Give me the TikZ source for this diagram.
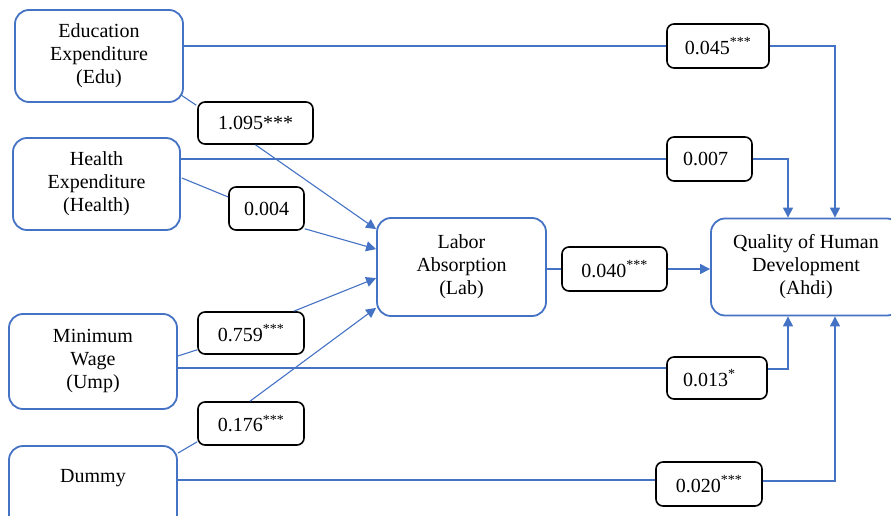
\documentclass[tikz,border=0pt]{standalone}
\usepackage{fontspec}
\setmainfont{Liberation Serif}
\usetikzlibrary{arrows.meta,calc}
\definecolor{bl}{HTML}{4472C4}
\begin{document}
\begin{tikzpicture}[x=1pt,y=-1pt,
  box/.style={draw=bl, line width=1.8pt, rounded corners=14pt, align=center, inner sep=0pt, font=\fontsize{20}{23}\selectfont},
  coef/.style={draw=black, line width=1.6pt, rounded corners=7pt, inner sep=0pt, font=\fontsize{20}{23}\selectfont},
  conn/.style={draw=bl, line width=1.1pt},
  arr/.style={conn, -{Triangle[length=10pt,width=10pt]}}]
\useasboundingbox (0,0) rectangle (891,516);

% main boxes
\node[box, minimum width=168pt, minimum height=92pt] (edu) at (99,56) {Education\\Expenditure\\(Edu)};
\node[box, minimum width=167pt, minimum height=92pt] (health) at (96.5,184) {Health\\Expenditure\\(Health)};
\node[box, minimum width=168pt, minimum height=95pt] (ump) at (93,361.5) {Minimum\\Wage\\(Ump)};
\node[box, minimum width=168pt, minimum height=94pt, text height=10pt, text depth=32pt] (dummy) at (93,493) {Dummy};
\node[box, minimum width=169pt, minimum height=98pt] (lab) at (461.5,267) {Labor\\Absorption\\(Lab)};
\node[box, minimum width=190pt, minimum height=97pt] (ahdi) at (806,267) {Quality of Human\\Development\\(Ahdi)};

% coefficient boxes
\node[coef, minimum width=115pt, minimum height=42pt] (l1) at (255.5,123) {1.095***};
\node[coef, minimum width=75pt, minimum height=43pt] (l2) at (266.5,208.5) {0.004};
\node[coef, minimum width=106pt, minimum height=42pt] (l3) at (251,333) {0.759\textsuperscript{***}};
\node[coef, minimum width=106pt, minimum height=43pt] (l4) at (251,423.5) {0.176\textsuperscript{***}};
\node[coef, minimum width=105pt, minimum height=44pt] (l5) at (614.5,269) {0.040\textsuperscript{***}};
\node[coef, minimum width=102pt, minimum height=44pt] (l6) at (718,46) {0.045\textsuperscript{***}};
\node[coef, minimum width=85pt, minimum height=44pt, text width=53pt, inner xsep=16pt, align=left] (l7) at (709.5,159) {0.007};
\node[coef, minimum width=100pt, minimum height=42pt, text width=68pt, inner xsep=16pt, align=left] (l8) at (717,378) {0.013\textsuperscript{*}};
\node[coef, minimum width=106pt, minimum height=44pt] (l9) at (709,484) {0.020\textsuperscript{***}};

% paths to Lab
\draw[conn] ([shift={(-3,-8)}]edu.south east) -- ([shift={(-1,4)}]l1.north west);
\draw[arr] (l1.south) -- ([shift={(0,12)}]lab.north west);
\draw[conn] ([shift={(1,-6)}]health.east) -- ([shift={(0,-11.5)}]l2.west);
\draw[arr] ([shift={(0,-2)}]l2.south east) -- ([shift={(0,32)}]lab.north west);
\draw[conn] ([shift={(0,-5.5)}]ump.east) -- ([shift={(0,-5)}]l3.south west);
\draw[arr] ([shift={(-11,0)}]l3.north east) -- ([shift={(0,61)}]lab.north west);
\draw[conn] ([shift={(0,8)}]dummy.north east) -- ([shift={(0,-4)}]l4.south west);
\draw[arr] ([shift={(-1,0)}]l4.north) -- ([shift={(0,-9)}]lab.south west);

% Lab to Ahdi
\draw[conn] (l5.west -| lab.east) -- (l5.west);
\draw[arr] (l5.east) -- (l5.east -| ahdi.west);

% direct paths to Ahdi
\draw[conn] (l6.west -| edu.east) -- (l6.west);
\draw[arr] (l6.east) -| ([shift={(29,0)}]ahdi.north);
\draw[conn] (l7.west -| health.east) -- (l7.west);
\draw[arr] (l7.east) -| ([shift={(-18,0)}]ahdi.north);
\draw[conn] ([shift={(0,-10)}]l8.west -| ump.east) -- ([shift={(0,-10)}]l8.west);
\draw[arr] ([shift={(0,-9)}]l8.east) -| ([shift={(-18,0)}]ahdi.south);
\draw[conn] ([shift={(0,-4)}]l9.west -| dummy.east) -- ([shift={(0,-4)}]l9.west);
\draw[arr] ([shift={(0,-3)}]l9.east) -| ([shift={(29,0)}]ahdi.south);
\end{tikzpicture}
\end{document}
